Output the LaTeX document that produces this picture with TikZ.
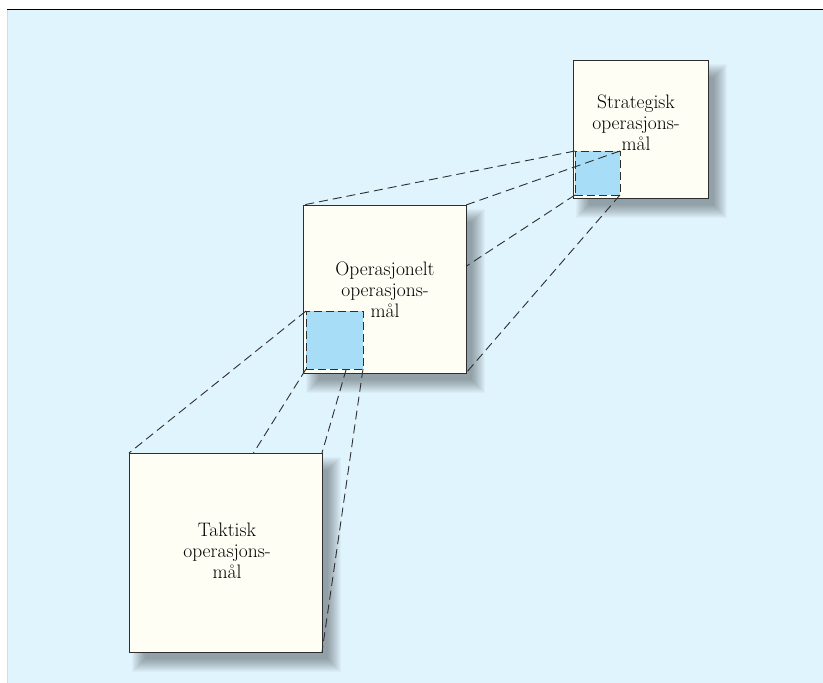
\documentclass[tikz,border=0pt]{standalone}
\definecolor{bgblue}{HTML}{E0F4FE}
\definecolor{boxfill}{HTML}{FEFEF5}
\definecolor{sqblue}{HTML}{A8DDF7}
\definecolor{edge}{HTML}{2E2E2E}
\definecolor{leftedge}{HTML}{C9DEEA}
\pgfdeclarelayer{bglayer}
\pgfdeclarelayer{shadowlayer}
\pgfsetlayers{bglayer,shadowlayer,main}
\tikzset{
  bigbox/.style={draw=edge, line width=1pt, fill=boxfill, inner sep=0pt, outer sep=0pt},
  subsq/.style={draw=edge, line width=1pt, fill=sqblue, inner sep=0pt, outer sep=0pt,
    dash pattern=on 8pt off 4pt},
  proj/.style={draw=edge, line width=0.9pt, dash pattern=on 9pt off 5pt},
  boxlabel/.style={align=center, text=black, inner sep=0pt,
    font=\fontsize{19.5}{21}\selectfont},
  shadowstep/.style={fill=black, opacity=0.026}
}
\newcommand{\mysoftshadow}[1]{%
  \begin{pgfonlayer}{shadowlayer}
  \foreach \i in {0,...,13}{
    \fill[shadowstep] ([xshift={3pt+\i pt}, yshift={-4pt-\i pt}]#1.north west)
      rectangle ([xshift={19pt-\i pt}, yshift={-20pt+\i pt}]#1.south east);
  }
  \end{pgfonlayer}}
\begin{document}
\begin{tikzpicture}[x=1pt,y=-1pt]
\useasboundingbox (0,0) rectangle (823,683);
\begin{pgfonlayer}{bglayer}
\fill[white] (0,0) rectangle (823,683);
\fill[bgblue] (7,10) rectangle (823,683);
\draw[leftedge, line width=0.8pt] (7.4,10) -- (7.4,683);
\draw[black, line width=1.4pt] (7,9.5) -- (823,9.5);
\end{pgfonlayer}

% boxes
\node[bigbox, minimum width=135pt, minimum height=138pt] (S) at (640.5,129) {};
\node[bigbox, minimum width=163pt, minimum height=168pt] (O) at (384.5,289) {};
\node[bigbox, minimum width=193pt, minimum height=199pt] (T) at (225.5,552.5) {};
\mysoftshadow{S}
\mysoftshadow{O}
\mysoftshadow{T}

% labels
\node[boxlabel] (Slab) at (636,122.5) {Strategisk\\operasjons-\\mål};
\node[boxlabel] (Olab) at (385,289.5) {Operasjonelt\\operasjons-\\mål};
\node[boxlabel] (Tlab) at (227,551) {Taktisk\\operasjons-\\mål};

% sub squares
\node[subsq, minimum width=45pt, minimum height=44pt] (sb) at (597.5,173) {};
\node[subsq, minimum width=57pt, minimum height=58pt] (ob) at (334.5,340) {};

% projection lines strategic -> operational
\draw[proj] (sb.north west) -- (O.north west);
\draw[proj] (sb.north east) -- (O.north east);
\draw[proj] (sb.south west) -- (intersection of sb.south west--O.south west and O.north east--O.south east);
\draw[proj] (sb.south east) -- (O.south east);

% projection lines operational -> tactical
\draw[proj] (ob.north west) -- (T.north west);
\draw[proj] (ob.south west) -- (intersection of ob.south west--T.south west and T.north west--T.north east);
\draw[proj] (intersection of ob.north east--T.north east and ob.south west--ob.south east) -- (T.north east);
\draw[proj] (ob.south east) -- (T.south east);
\end{tikzpicture}
\end{document}
